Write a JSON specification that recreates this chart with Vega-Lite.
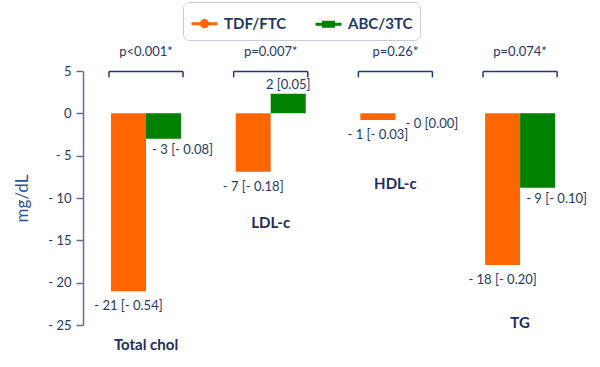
{
  "$schema": "https://vega.github.io/schema/vega-lite/v6.json",
  "width": 512,
  "height": 254,
  "autosize": "none",
  "padding": {"left": 83, "top": 71, "right": 5, "bottom": 42},
  "config": {"view": {"stroke": null}, "font": "Lato"},
  "datasets": {
    "bars": [
      {"param": "Total chol", "drug": "TDF/FTC", "value": -21, "label": "- 21 [- 0.54]"},
      {"param": "Total chol", "drug": "ABC/3TC", "value": -3, "label": "- 3 [- 0.08]"},
      {"param": "LDL-c", "drug": "TDF/FTC", "value": -6.9, "label": "- 7 [- 0.18]"},
      {"param": "LDL-c", "drug": "ABC/3TC", "value": 2.3, "label": "2 [0.05]"},
      {"param": "HDL-c", "drug": "TDF/FTC", "value": -0.8, "label": "- 1 [- 0.03]"},
      {"param": "HDL-c", "drug": "ABC/3TC", "value": 0, "label": "- 0 [0.00]"},
      {"param": "TG", "drug": "TDF/FTC", "value": -17.9, "label": "- 18 [- 0.20]"},
      {"param": "TG", "drug": "ABC/3TC", "value": -8.8, "label": "- 9 [- 0.10]"}
    ],
    "params": [
      {"param": "Total chol", "p": "p<0.001*", "label_at": -27.4},
      {"param": "LDL-c", "p": "p=0.007*", "label_at": -12.9},
      {"param": "HDL-c", "p": "p=0.26*", "label_at": -8.3},
      {"param": "TG", "p": "p=0.074*", "label_at": -24.8}
    ]
  },
  "layer": [
    {
      "data": {"name": "bars"},
      "mark": {"type": "bar"},
      "encoding": {
        "x": {"field": "param", "type": "nominal", "sort": ["Total chol", "LDL-c", "HDL-c", "TG"], "axis": null,
              "scale": {"paddingInner": 0, "paddingOuter": 0.053, "align": 0.05}},
        "xOffset": {"field": "drug", "type": "nominal", "sort": ["TDF/FTC", "ABC/3TC"],
                    "scale": {"paddingInner": 0, "paddingOuter": 0.78}},
        "y": {"field": "value", "type": "quantitative",
              "scale": {"domain": [-25, 5], "nice": false, "zero": false},
              "axis": {"title": "mg/dL", "values": [5, 0, -5, -10, -15, -20, -25],
                       "labelExpr": "datum.value < 0 ? '- ' + abs(datum.value) : datum.label",
                       "grid": false, "labelFontSize": 13, "labelColor": "#1F3864", "labelPadding": 5,
                       "domainColor": "#5B6F9C", "domainWidth": 1.5, "tickColor": "#5B6F9C", "tickWidth": 1.5, "tickSize": 7,
                       "titleFontSize": 17, "titleFontWeight": "normal", "titleColor": "#2E5597", "titlePadding": 16}},
        "color": {"field": "drug", "type": "nominal",
                  "scale": {"domain": ["TDF/FTC", "ABC/3TC"], "range": ["#FF6600", "#008000"]},
                  "legend": {"orient": "none", "legendX": 100, "legendY": -69, "direction": "horizontal", "title": null,
                             "labelFontSize": 15, "labelFontWeight": "bold", "labelColor": "#1F3864", "labelOffset": 5,
                             "symbolSize": 676, "symbolStrokeWidth": 3, "columnPadding": 22, "padding": 7,
                             "strokeColor": "#C8CCD8", "cornerRadius": 6, "fillColor": "white",
                             "encode": {"symbols": {"update": {
                               "shape": {"signal": "datum.value === 'TDF/FTC' ? 'M-1,0L1,0M-0.24,0A0.24,0.24,0,1,1,0.24,0A0.24,0.24,0,1,1,-0.24,0Z' : 'M-1,0L1,0M-0.38,-0.16L0.38,-0.16L0.38,0.16L-0.38,0.16Z'"},
                               "stroke": {"signal": "datum.value === 'TDF/FTC' ? '#FF6600' : '#008000'"},
                               "fill": {"signal": "datum.value === 'TDF/FTC' ? '#FF6600' : '#008000'"}
                             }}}}}
      }
    },
    {
      "mark": {"type": "rule", "color": "#1F3A6E", "strokeWidth": 1.5},
      "encoding": {"y": {"datum": 0, "type": "quantitative"}}
    },
    {
      "data": {"name": "bars"},
      "transform": [{"filter": "datum.drug === 'TDF/FTC'"}],
      "mark": {"type": "text", "fontSize": 13, "color": "#1F3864", "dy": 15, "baseline": "middle"},
      "encoding": {
        "x": {"field": "param", "type": "nominal", "sort": ["Total chol", "LDL-c", "HDL-c", "TG"]},
        "xOffset": {"field": "drug", "type": "nominal", "sort": ["TDF/FTC", "ABC/3TC"]},
        "y": {"field": "value", "type": "quantitative"},
        "text": {"field": "label"}
      }
    },
    {
      "data": {"name": "bars"},
      "transform": [{"filter": "datum.drug === 'ABC/3TC' && datum.value <= 0"}],
      "mark": {"type": "text", "fontSize": 13, "color": "#1F3864", "dy": 11, "dx": 19, "baseline": "middle"},
      "encoding": {
        "x": {"field": "param", "type": "nominal", "sort": ["Total chol", "LDL-c", "HDL-c", "TG"]},
        "xOffset": {"field": "drug", "type": "nominal", "sort": ["TDF/FTC", "ABC/3TC"]},
        "y": {"field": "value", "type": "quantitative"},
        "text": {"field": "label"}
      }
    },
    {
      "data": {"name": "bars"},
      "transform": [{"filter": "datum.drug === 'ABC/3TC' && datum.value > 0"}],
      "mark": {"type": "text", "fontSize": 13, "color": "#1F3864", "dy": -9, "baseline": "middle"},
      "encoding": {
        "x": {"field": "param", "type": "nominal", "sort": ["Total chol", "LDL-c", "HDL-c", "TG"]},
        "xOffset": {"field": "drug", "type": "nominal", "sort": ["TDF/FTC", "ABC/3TC"]},
        "y": {"field": "value", "type": "quantitative"},
        "text": {"field": "label"}
      }
    },
    {
      "data": {"name": "params"},
      "mark": {"type": "text", "fontSize": 13, "color": "#1F3864", "baseline": "middle"},
      "encoding": {
        "x": {"field": "param", "type": "nominal", "sort": ["Total chol", "LDL-c", "HDL-c", "TG"]},
        "y": {"datum": 7.2, "type": "quantitative"},
        "text": {"field": "p"}
      }
    },
    {
      "data": {"name": "params"},
      "mark": {"type": "rule", "color": "#1F3A6E", "strokeWidth": 1.5},
      "encoding": {
        "x": {"field": "param", "type": "nominal", "sort": ["Total chol", "LDL-c", "HDL-c", "TG"], "bandPosition": 0.203},
        "x2": {"field": "param", "bandPosition": 0.797},
        "y": {"datum": 4.95, "type": "quantitative"}
      }
    },
    {
      "data": {"name": "params"},
      "mark": {"type": "rule", "color": "#1F3A6E", "strokeWidth": 1.5},
      "encoding": {
        "x": {"field": "param", "type": "nominal", "sort": ["Total chol", "LDL-c", "HDL-c", "TG"], "bandPosition": 0.203},
        "y": {"datum": 4.95, "type": "quantitative"},
        "y2": {"datum": 4.25}
      }
    },
    {
      "data": {"name": "params"},
      "mark": {"type": "rule", "color": "#1F3A6E", "strokeWidth": 1.5},
      "encoding": {
        "x": {"field": "param", "type": "nominal", "sort": ["Total chol", "LDL-c", "HDL-c", "TG"], "bandPosition": 0.797},
        "y": {"datum": 4.95, "type": "quantitative"},
        "y2": {"datum": 4.25}
      }
    },
    {
      "data": {"name": "params"},
      "mark": {"type": "text", "fontSize": 15, "fontWeight": "bold", "color": "#1F2D5C", "baseline": "middle"},
      "encoding": {
        "x": {"field": "param", "type": "nominal", "sort": ["Total chol", "LDL-c", "HDL-c", "TG"]},
        "y": {"field": "label_at", "type": "quantitative"},
        "text": {"field": "param"}
      }
    }
  ]
}
